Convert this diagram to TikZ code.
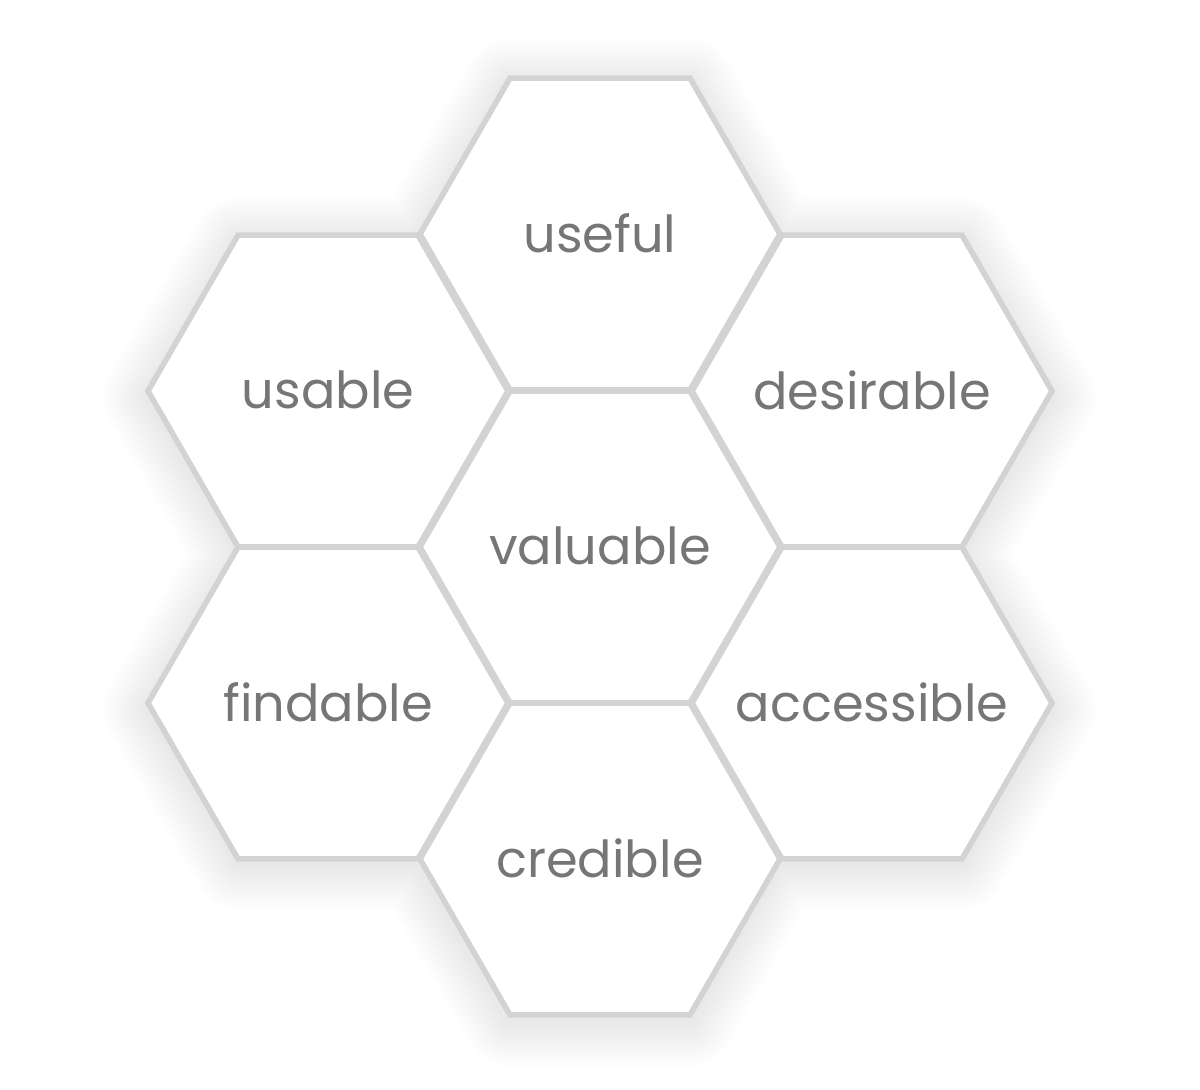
\documentclass[tikz,border=0pt]{standalone}
\usepackage{fontspec}
\setmainfont{Poppins}
\usetikzlibrary{shapes.geometric}
\definecolor{hexline}{RGB}{211,211,211}
\definecolor{hextext}{RGB}{118,118,118}
\newcommand{\hexword}[1]{\makebox[0pt]{\raisebox{1.3pt}{#1}}}
\begin{document}
\begin{tikzpicture}[x=0.5pt,y=-0.5pt,
    hexcell/.style={regular polygon, regular polygon sides=6, minimum size=180pt,
      inner sep=0pt, outer sep=0pt, draw=hexline, line width=2.8pt, fill=white,
      text=hextext, font=\fontsize{25.5}{30}\selectfont}]
        \useasboundingbox (0,0) rectangle (1200,1089);
        
        % soft shadow round the cluster
        \foreach \w in {88,80,72,64,56,48,40,32,24,16,8} {
        \begin{scope}[transparency group, opacity=0.007, yshift=-3pt]
        \draw [black, line width=\w*0.5pt, line join=round, fill=black] (509,77) -- (690,77) -- (778,235) -- (962,235) -- (1052,391) -- (962,547) -- (1052,703) -- (962,859) -- (778,859) -- (690,1016) -- (509,1016) -- (418,859) -- (238,859) -- (147,703) -- (238,547) -- (147,391) -- (238,235) -- (418,235) -- cycle ;
        \end{scope}
        }
        
        % Hexagons
        \node [hexcell] (useful) at (600,234) {\hexword{useful}};
        \node [hexcell] (usable) at (328,391) {\hexword{usable}};
        \node [hexcell] (desirable) at (872,391) {\hexword{desirable}};
        \node [hexcell] (valuable) at (600,547) {\hexword{valuable}};
        \node [hexcell] (findable) at (328,703) {\hexword{findable}};
        \node [hexcell] (accessible) at (872,703) {\hexword{accessible}};
        \node [hexcell] (credible) at (600,859) {\hexword{credible}};
        
\end{tikzpicture}
\end{document}
